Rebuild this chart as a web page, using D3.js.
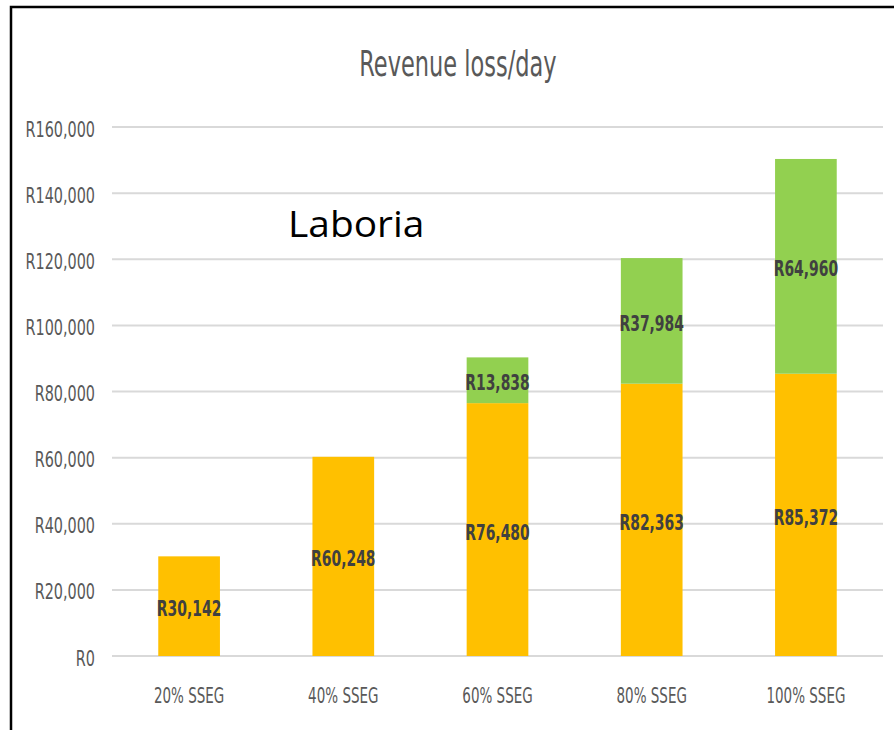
<!DOCTYPE html>
<html>
<head>
<meta charset="utf-8">
<title>Revenue loss/day</title>
<script src="https://d3js.org/d3.v7.min.js"></script>
<style>
  body { margin: 0; background: #fff; }
  svg { display: block; }
  text { font-family: "Liberation Sans Narrow", "DejaVu Sans Condensed", sans-serif; }
</style>
</head>
<body>
<div id="container"></div>
<script>
const categories = ["20% SSEG", "40% SSEG", "60% SSEG", "80% SSEG", "100% SSEG"];
const baseLoss = [30142, 60248, 76480, 82363, 85372];
const extraLoss = [0, 0, 13838, 37984, 64960];
const yTicks = [0, 20000, 40000, 60000, 80000, 100000, 120000, 140000, 160000];

const width = 894,
      height = 730,
      margin = { top: 127, bottom: 74, left: 112, right: 11 };

// text in the picture is taller than it is wide
const place = (px, py, sx, sy) => `translate(${px}, ${py}) scale(${sx}, ${sy})`;

const svg = d3.select("#container")
  .append("svg")
  .attr("width", width)
  .attr("height", height);

// frame
svg.append("rect")
  .attr("x", 11).attr("y", 7)
  .attr("width", width + 20).attr("height", height + 20)
  .attr("fill", "none")
  .attr("stroke", "#000")
  .attr("stroke-width", 2.5);

const x = d3.scaleBand()
  .domain(categories)
  .range([margin.left, width - margin.right])
  .paddingInner(0.6)
  .paddingOuter(0.3);

const y = d3.scaleLinear()
  .domain([0, 160000])
  .range([height - margin.bottom, margin.top]);

const fmt = v => "R" + d3.format(",")(v);

// gridlines
svg.append("g")
  .selectAll("line")
  .data(yTicks)
  .join("line")
  .attr("x1", margin.left)
  .attr("x2", width - margin.right)
  .attr("y1", d => y(d))
  .attr("y2", d => y(d))
  .attr("stroke", "#d9d9d9")
  .attr("stroke-width", 2);

// y axis labels
svg.append("g")
  .selectAll("text")
  .data(yTicks)
  .join("text")
  .attr("transform", d => place(95, y(d) + 9.5, 1, 1.35))
  .attr("text-anchor", "end")
  .attr("fill", "#595959")
  .style("font-size", "16px")
  .text(fmt);

// x axis labels
svg.append("g")
  .selectAll("text")
  .data(categories)
  .join("text")
  .attr("transform", d => place(x(d) + x.bandwidth() / 2, 703, 1, 1.45))
  .attr("text-anchor", "middle")
  .attr("fill", "#595959")
  .style("font-size", "15px")
  .text(d => d);

// stacked bars
const stacked = categories.map((c, i) => ({ cat: c, base: baseLoss[i], extra: extraLoss[i] }));

svg.append("g")
  .selectAll("rect")
  .data(stacked)
  .join("rect")
  .attr("x", d => x(d.cat))
  .attr("width", x.bandwidth())
  .attr("y", d => y(d.base))
  .attr("height", d => y(0) - y(d.base))
  .attr("fill", "#FFC000");

svg.append("g")
  .selectAll("rect")
  .data(stacked.filter(d => d.extra > 0))
  .join("rect")
  .attr("x", d => x(d.cat))
  .attr("width", x.bandwidth())
  .attr("y", d => y(d.base + d.extra))
  .attr("height", d => y(d.base) - y(d.base + d.extra))
  .attr("fill", "#92D050");

// data labels
const labels = [];
stacked.forEach(d => {
  labels.push({ cat: d.cat, mid: d.base / 2, v: d.base });
  if (d.extra > 0) labels.push({ cat: d.cat, mid: d.base + d.extra / 2, v: d.extra });
});

svg.append("g")
  .selectAll("text")
  .data(labels)
  .join("text")
  .attr("transform", d => place(x(d.cat) + x.bandwidth() / 2, y(d.mid) + 10, 1, 1.4))
  .attr("text-anchor", "middle")
  .attr("fill", "#404040")
  .style("font-size", "15.5px")
  .style("font-weight", "bold")
  .text(d => fmt(d.v));

// title
svg.append("text")
  .attr("transform", place(458, 76, 1, 1.45))
  .attr("text-anchor", "middle")
  .attr("fill", "#595959")
  .style("font-size", "25px")
  .text("Revenue loss/day");

svg.append("text")
  .attr("transform", place(288, 237, 1.08, 1))
  .attr("fill", "#000")
  .style("font-family", "'Open Sans', sans-serif")
  .style("font-size", "36px")
  .text("Laboria");
</script>
</body>
</html>
